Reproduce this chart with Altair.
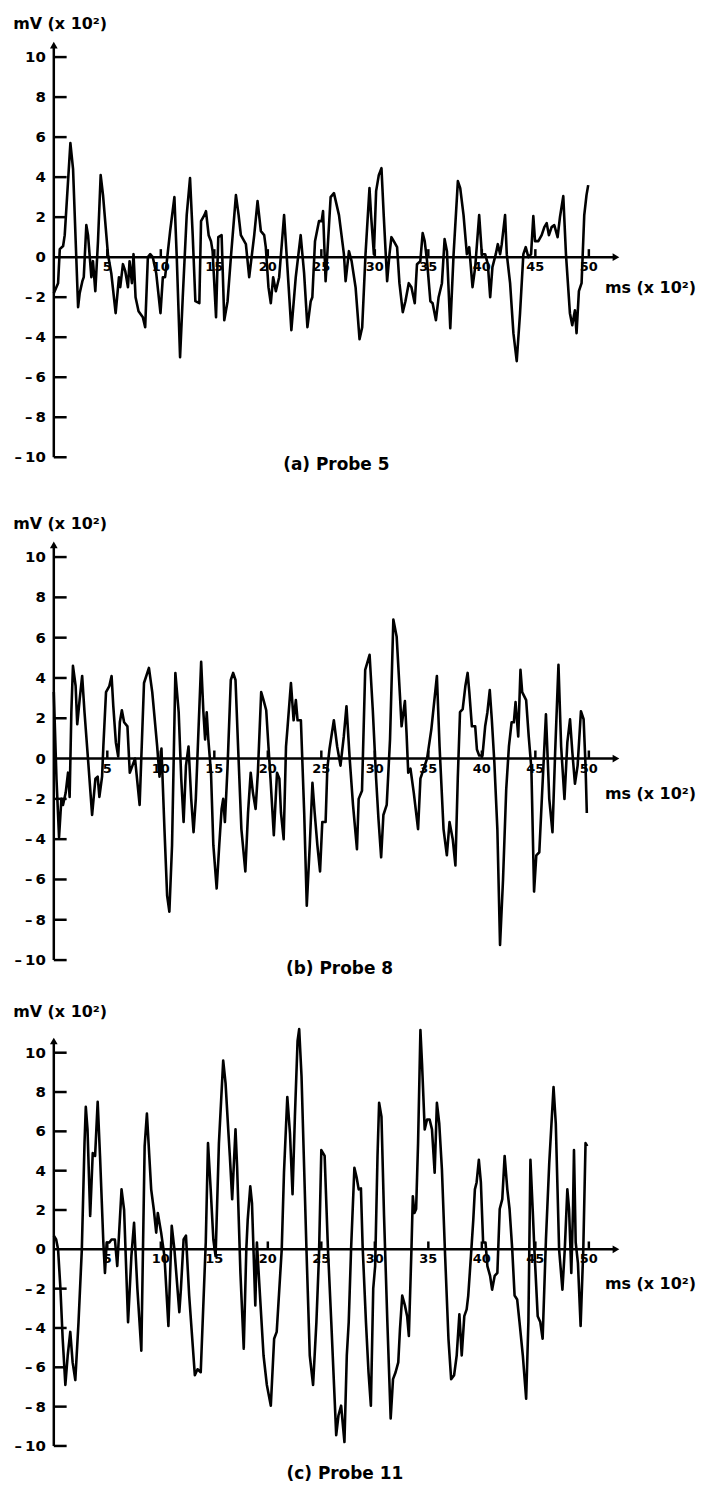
import altair as alt
import pandas as pd

# ---------------- data ----------------
# time axis in ms (x 10^2), signal in mV (x 10^2)
A_T = [0, 0.4, 0.56, 0.87, 1.02, 1.55, 1.8, 2.27, 2.42, 2.67,
       2.8, 3.04, 3.2, 3.51, 3.66, 3.88, 4.13, 4.38, 4.6, 4.91,
       5.06, 5.37, 5.78, 6.09, 6.21, 6.46, 6.68, 6.93, 7.08, 7.3,
       7.45, 7.64, 7.92, 8.32, 8.54, 8.79, 9.01, 9.25, 9.57, 9.97,
       10.19, 10.4, 10.87, 11.27, 11.49, 11.8, 12.05, 12.42, 12.73, 12.98,
       13.23, 13.6, 13.76, 14.07, 14.22, 14.47, 14.69, 14.84, 15.16, 15.37,
       15.68, 15.93, 16.24, 16.55, 17.02, 17.27, 17.48, 17.95, 18.26, 18.73,
       19.04, 19.35, 19.66, 19.81, 20.06, 20.28, 20.5, 20.75, 21.06, 21.52,
       21.83, 22.2, 22.61, 23.07, 23.39, 23.7, 24.01, 24.16, 24.41, 24.78,
       25.03, 25.16, 25.4, 25.56, 25.87, 26.18, 26.65, 27.11, 27.27, 27.58,
       27.83, 28.2, 28.57, 28.82, 29.13, 29.5, 29.66, 29.91, 30.12, 30.37,
       30.62, 30.84, 31.15, 31.37, 31.55, 31.77, 32.08, 32.3, 32.61, 32.86,
       33.17, 33.42, 33.73, 33.94, 34.25, 34.47, 34.66, 34.88, 35.19, 35.4,
       35.71, 35.96, 36.27, 36.52, 36.74, 37.05, 37.36, 37.76, 37.98, 38.29,
       38.6, 38.82, 39.13, 39.38, 39.75, 40.0, 40.31, 40.56, 40.78, 40.99,
       41.3, 41.49, 41.71, 41.86, 42.17, 42.33, 42.64, 42.95, 43.26, 43.57,
       43.88, 44.1, 44.35, 44.6, 44.81, 44.97, 45.28, 45.59, 45.84, 46.06,
       46.27, 46.52, 46.77, 47.08, 47.3, 47.61, 47.86, 48.23, 48.45, 48.7,
       48.85, 49.07, 49.32, 49.57, 49.78, 49.94]
A_V = [-1.8, -1.3, 0.4, 0.56, 1.1, 5.7, 4.4, -2.5, -1.8, -1.2,
       -1.0, 1.6, 1.1, -1.0, -0.2, -1.7, 0.8, 4.1, 3.1, 1.1,
       0.15, -0.8, -2.8, -1.0, -1.5, -0.35, -0.7, -1.5, -0.2, -1.3,
       0.15, -2.0, -2.7, -3.0, -3.5, 0.0, 0.15, 0.0, -0.8, -2.8,
       -1.0, -1.0, 1.3, 3.0, 0.0, -5.0, -2.0, 2.1, 3.95, 1.1,
       -2.2, -2.3, 1.8, 2.1, 2.3, 1.1, 0.8, 0.3, -3.0, 1.0,
       1.1, -3.15, -2.2, 0.0, 3.1, 2.1, 1.1, 0.65, -1.0, 1.1,
       2.8, 1.3, 1.1, 0.5, -1.5, -2.3, -1.0, -1.7, -1.0, 2.1,
       -0.5, -3.65, -1.0, 1.1, -0.8, -3.5, -2.2, -2.0, 0.8, 1.8,
       1.8, 2.3, -1.2, 0.15, 3.0, 3.2, 2.1, 0.15, -1.2, 0.3,
       -0.2, -1.5, -4.1, -3.5, 0.15, 3.45, 2.0, 0.15, 3.3, 4.1,
       4.45, 2.0, -1.2, 0.15, 1.0, 0.8, 0.5, -1.3, -2.75, -2.2,
       -1.3, -1.5, -2.3, -0.35, -0.2, 1.2, 0.8, -0.2, -2.2, -2.3,
       -3.15, -2.0, -1.3, 0.9, 0.3, -3.55, 0.15, 3.8, 3.45, 2.1,
       0.15, 0.5, -1.5, -0.5, 2.1, 0.15, 0.15, -0.35, -2.0, -0.5,
       0.15, 0.65, 0.15, 0.65, 2.1, 0.15, -1.3, -3.8, -5.2, -2.8,
       0.15, 0.5, 0.0, 0.15, 2.05, 0.8, 0.8, 1.1, 1.5, 1.7,
       1.1, 1.5, 1.6, 1.0, 2.0, 3.05, 0.15, -2.8, -3.4, -2.65,
       -3.8, -1.7, -1.3, 2.1, 3.1, 3.6]

B_T = [0, 0.25, 0.49, 0.71, 0.86, 1.11, 1.33, 1.48, 1.64, 1.79,
       2.04, 2.19, 2.41, 2.65, 2.87, 3.18, 3.58, 3.89, 4.10, 4.26,
       4.51, 4.63, 4.88, 5.19, 5.40, 5.56, 5.80, 6.02, 6.17, 6.36,
       6.57, 6.88, 7.10, 7.35, 7.59, 8.02, 8.43, 8.89, 9.20, 9.66,
       9.88, 10.06, 10.34, 10.59, 10.80, 11.05, 11.36, 11.67, 11.91, 12.13,
       12.35, 12.59, 12.84, 13.06, 13.27, 13.77, 13.98, 14.14, 14.29, 14.44,
       14.69, 14.91, 15.22, 15.46, 15.68, 15.83, 15.99, 16.23, 16.54, 16.76,
       16.98, 17.22, 17.53, 17.90, 18.15, 18.40, 18.61, 18.86, 19.07, 19.38,
       19.60, 19.85, 20.06, 20.25, 20.56, 20.86, 21.08, 21.23, 21.48, 21.70,
       21.85, 22.16, 22.41, 22.62, 22.78, 23.09, 23.40, 23.64, 23.92, 24.17,
       24.38, 24.63, 24.88, 25.09, 25.40, 25.56, 25.77, 26.17, 26.48, 26.79,
       27.10, 27.35, 27.65, 27.96, 28.33, 28.49, 28.80, 29.10, 29.51, 29.81,
       30.12, 30.34, 30.59, 30.80, 31.11, 31.42, 31.73, 32.04, 32.35, 32.50,
       32.81, 32.96, 33.12, 33.33, 33.64, 34.04, 34.26, 34.57, 34.88, 35.28,
       35.80, 36.05, 36.42, 36.73, 36.98, 37.28, 37.53, 37.75, 37.96, 38.21,
       38.46, 38.67, 38.83, 39.07, 39.38, 39.54, 39.75, 40.06, 40.31, 40.52,
       40.74, 40.93, 41.17, 41.45, 41.70, 41.98, 42.28, 42.53, 42.78, 42.99,
       43.15, 43.40, 43.61, 43.77, 44.14, 44.38, 44.63, 44.88, 45.09, 45.37,
       45.62, 45.99, 46.30, 46.60, 46.85, 47.16, 47.41, 47.72, 47.99, 48.24,
       48.46, 48.70, 48.95, 49.26, 49.51, 49.69, 49.81]
B_V = [3.3, -1.0, -3.9, -2.0, -2.3, -1.7, -0.7, -1.9, 2.3, 4.6,
       3.6, 1.7, 2.9, 4.1, 2.3, 0.1, -2.8, -1.0, -0.9, -1.9,
       -0.9, 0.6, 3.3, 3.6, 4.1, 2.6, 0.8, 0.1, 1.8, 2.4,
       1.8, 1.6, -0.7, -0.35, 0.0, -2.3, 3.75, 4.5, 3.3, 0.6,
       -0.9, 0.5, -3.5, -6.8, -7.6, -4.3, 4.25, 2.3, -1.0, -3.15,
       -0.35, 0.6, -2.0, -3.65, -2.0, 4.8, 2.3, 0.95, 2.3, 0.95,
       -0.7, -4.3, -6.45, -4.3, -2.5, -2.0, -3.15, -0.5, 3.9, 4.25,
       3.9, 0.6, -3.5, -5.6, -2.7, -0.7, -1.7, -2.5, -0.7, 3.3,
       2.9, 2.4, 0.6, -1.0, -3.8, -0.7, -1.0, -2.7, -4.0, 0.6,
       1.6, 3.75, 1.9, 2.9, 1.9, 1.9, -2.7, -7.3, -4.3, -1.2,
       -2.7, -4.3, -5.6, -3.15, -3.15, -0.5, 0.5, 1.9, 0.6, -0.35,
       1.1, 2.6, 0.0, -2.3, -4.5, -2.0, -1.6, 4.4, 5.15, 2.4,
       -1.0, -3.0, -4.9, -2.8, -2.3, 0.95, 6.9, 6.05, 3.1, 1.6,
       2.85, 1.3, -0.7, -0.5, -1.7, -3.5, -1.0, -0.5, 0.0, 1.45,
       4.1, 0.6, -3.5, -4.8, -3.15, -4.0, -5.3, -1.0, 2.3, 2.45,
       3.6, 4.25, 3.3, 1.6, 1.6, 0.45, 0.15, 0.15, 1.6, 2.3,
       3.4, 1.95, -0.2, -3.5, -9.25, -6.0, -1.5, 0.6, 1.8, 1.8,
       2.8, 1.1, 4.4, 3.3, 2.9, 1.1, -0.5, -6.6, -4.8, -4.65,
       -1.85, 2.2, -2.0, -3.65, 0.3, 4.65, 0.6, -2.0, 0.8, 1.95,
       0.3, -1.25, -0.35, 2.35, 1.95, -0.35, -2.7]

C_T = [0, 0.22, 0.40, 0.62, 0.83, 1.08, 1.30, 1.54, 1.76, 2.01,
       2.31, 2.62, 2.87, 2.99, 3.15, 3.40, 3.64, 3.86, 4.10, 4.32,
       4.63, 4.78, 4.94, 5.19, 5.40, 5.71, 5.93, 6.33, 6.57, 6.94,
       7.25, 7.50, 7.81, 8.18, 8.49, 8.70, 9.10, 9.35, 9.57, 9.72,
       10.03, 10.34, 10.71, 11.02, 11.27, 11.73, 11.88, 12.13, 12.35, 12.65,
       13.18, 13.43, 13.73, 14.20, 14.41, 14.66, 14.91, 15.12, 15.43, 15.83,
       16.05, 16.30, 16.45, 16.67, 16.98, 17.13, 17.44, 17.75, 17.99, 18.12,
       18.36, 18.52, 18.83, 18.98, 19.23, 19.60, 19.91, 20.28, 20.59, 20.83,
       21.30, 21.51, 21.82, 22.07, 22.31, 22.53, 22.78, 22.93, 23.15, 23.61,
       23.92, 24.23, 24.54, 24.78, 25.00, 25.31, 25.62, 25.93, 26.39, 26.60,
       26.85, 27.16, 27.38, 27.56, 27.78, 28.09, 28.30, 28.49, 28.70, 28.86,
       29.17, 29.41, 29.63, 29.85, 30.03, 30.25, 30.40, 30.62, 30.86, 31.17,
       31.48, 31.70, 31.94, 32.19, 32.35, 32.56, 32.81, 33.02, 33.18, 33.43,
       33.55, 33.70, 33.86, 34.04, 34.26, 34.41, 34.66, 34.88, 35.12, 35.34,
       35.59, 35.80, 36.02, 36.27, 36.57, 36.88, 37.13, 37.41, 37.65, 37.90,
       38.12, 38.36, 38.58, 38.73, 38.98, 39.20, 39.35, 39.51, 39.72, 39.91,
       40.12, 40.34, 40.52, 40.77, 40.96, 41.20, 41.45, 41.67, 41.91, 42.13,
       42.38, 42.59, 42.84, 43.06, 43.30, 43.52, 43.83, 44.14, 44.35, 44.54,
       44.75, 44.91, 45.22, 45.46, 45.68, 45.99, 46.30, 46.70, 46.91, 47.22,
       47.53, 47.75, 47.99, 48.15, 48.36, 48.52, 48.61, 48.77, 48.98, 49.23,
       49.48, 49.69, 49.85]
C_V = [0.7, 0.5, 0.0, -2.0, -4.55, -6.9, -5.4, -4.2, -5.75, -6.65,
       -3.7, 0.0, 5.4, 7.25, 6.1, 1.7, 4.9, 4.75, 7.5, 4.75,
       0.35, -1.2, 0.35, 0.35, 0.5, 0.5, -0.85, 3.05, 2.0, -3.7,
       -0.35, 1.35, -2.0, -5.15, 5.25, 6.9, 3.05, 2.0, 0.85, 1.85,
       0.85, -0.35, -3.9, 1.2, 0.0, -3.2, -2.0, 0.5, 0.7, -2.35,
       -6.4, -6.1, -6.25, 0.35, 5.4, 3.05, 0.5, -0.35, 5.4, 9.6,
       8.45, 6.1, 4.75, 2.55, 6.1, 4.2, -1.2, -5.05, 0.0, 1.5,
       3.2, 2.35, -2.85, 0.35, -2.0, -5.4, -6.9, -7.95, -4.55, -4.2,
       0.0, 3.9, 7.75, 5.9, 2.8, 6.75, 10.6, 11.2, 8.8, 0.0,
       -5.4, -6.9, -3.7, -0.35, 5.05, 4.75, 0.0, -3.7, -9.45, -8.45,
       -7.95, -9.8, -5.4, -3.7, 0.0, 4.15, 3.65, 3.05, 3.1, 0.15,
       -3.7, -6.25, -7.95, -2.0, -0.85, 4.75, 7.45, 6.75, 1.7, -3.7,
       -8.6, -6.6, -6.25, -5.75, -4.05, -2.35, -2.85, -3.4, -4.4, 0.15,
       2.7, 1.85, 2.05, 5.4, 11.15, 9.45, 6.1, 6.6, 6.6, 6.1,
       3.9, 7.45, 6.4, 4.05, -0.35, -4.55, -6.6, -6.4, -5.4, -3.3,
       -5.4, -3.4, -3.05, -2.35, -0.35, 1.5, 3.05, 3.4, 4.55, 3.4,
       0.35, 0.35, -0.85, -1.35, -2.05, -1.35, -1.2, 2.05, 2.55, 4.75,
       3.05, 2.05, 0.0, -2.35, -2.55, -3.7, -5.4, -7.6, -3.7, 4.55,
       2.05, 0.0, -3.4, -3.7, -4.55, 0.5, 4.4, 8.25, 6.4, 0.0,
       -2.05, 0.0, 3.05, 2.05, -1.2, 2.05, 5.05, 0.35, -0.7, -3.9,
       0.0, 5.4, 5.25]

CAPTIONS = ["(a)  Probe  5", "(b)  Probe  8", "(c)  Probe  11"]
Y_LABEL = "mV (x 10²)"
X_LABEL = "ms (x 10²)"
X_TICKS = [5, 10, 15, 20, 25, 30, 35, 40, 45, 50]
Y_TICKS = [-10, -8, -6, -4, -2, 0, 2, 4, 6, 8, 10]

# ---------------- layout ----------------
FONT = "DejaVu Sans"
X_DOMAIN = [0, 53.5]
W = 575
X_END = 53.0      # tip of the time-axis arrow
Y_END = 10.85     # tip of the voltage-axis arrow

PANEL_SPECS = [
    dict(t=A_T, v=A_V, cap=CAPTIONS[0], ytop=10.8, h=418,
         mv_y=11.64, ms_y=-1.54, cap_x=26.4, cap_y=-10.4),
    dict(t=B_T, v=B_V, cap=CAPTIONS[1], ytop=11.0, h=425,
         mv_y=11.66, ms_y=-1.78, cap_x=26.7, cap_y=-10.45),
    dict(t=C_T, v=C_V, cap=CAPTIONS[2], ytop=10.66, h=408,
         mv_y=12.05, ms_y=-1.77, cap_x=27.2, cap_y=-11.42),
]


def ylab(t):
    if t == 0:
        return "0"
    return ("\u2013\u2009" if t < 0 else "") + str(abs(t))


def make_panel(p):
    xs = alt.Scale(domain=X_DOMAIN, nice=False, zero=False)
    ys = alt.Scale(domain=[-10, p["ytop"]], nice=False, zero=False)

    def X(f):
        return alt.X(f, type="quantitative", scale=xs, axis=None)

    def Y(f):
        return alt.Y(f, type="quantitative", scale=ys, axis=None)

    sig = pd.DataFrame({"t": p["t"], "v": p["v"]})
    sig["i"] = range(len(sig))
    line = alt.Chart(sig).mark_line(
        color="black", strokeWidth=2.6, strokeJoin="round", clip=False
    ).encode(x=X("t"), y=Y("v"), order="i:Q")

    rows = [dict(x=0, x2=0, y=-10, y2=Y_END - 0.3), dict(x=0, x2=X_END - 0.5, y=0, y2=0)]
    rows += [dict(x=0, x2=1.2, y=t, y2=t) for t in Y_TICKS if t != 0]
    rows += [dict(x=t, x2=t, y=0, y2=0.4) for t in X_TICKS]
    rules = alt.Chart(pd.DataFrame(rows)).mark_rule(
        color="black", strokeWidth=2.5
    ).encode(x=X("x"), x2="x2:Q", y=Y("y"), y2="y2:Q")

    up = alt.Chart(pd.DataFrame({"x": [0], "y": [Y_END]})).mark_point(
        shape="triangle-up", size=60, filled=True,
        color="black", opacity=1, yOffset=5
    ).encode(x=X("x"), y=Y("y"))
    right = alt.Chart(pd.DataFrame({"x": [X_END], "y": [0]})).mark_point(
        shape="triangle-right", size=60, filled=True,
        color="black", opacity=1, xOffset=-5
    ).encode(x=X("x"), y=Y("y"))

    ylabs = pd.DataFrame({"x": [0] * len(Y_TICKS), "y": Y_TICKS,
                          "s": [ylab(t) for t in Y_TICKS]})
    ytxt = alt.Chart(ylabs).mark_text(
        align="right", baseline="middle", dx=-8, font=FONT, fontSize=15,
        fontWeight="bold", color="black"
    ).encode(x=X("x"), y=Y("y"), text="s:N")

    xlabs = pd.DataFrame({"x": X_TICKS, "y": [0] * len(X_TICKS),
                          "s": [str(t) for t in X_TICKS]})
    xtxt = alt.Chart(xlabs).mark_text(
        align="center", baseline="top", dy=4, font=FONT, fontSize=13,
        fontWeight="bold", color="black"
    ).encode(x=X("x"), y=Y("y"), text="s:N")

    mv = alt.Chart(pd.DataFrame({"x": [-3.8], "y": [p["mv_y"]], "s": [Y_LABEL]})).mark_text(
        align="left", baseline="middle", font=FONT, fontSize=16,
        fontWeight="bold", color="black"
    ).encode(x=X("x"), y=Y("y"), text="s:N")

    ms = alt.Chart(pd.DataFrame({"x": [51.5], "y": [p["ms_y"]], "s": [X_LABEL]})).mark_text(
        align="left", baseline="middle", font=FONT, fontSize=16,
        fontWeight="bold", color="black"
    ).encode(x=X("x"), y=Y("y"), text="s:N")

    cap = alt.Chart(pd.DataFrame({"x": [p["cap_x"]], "y": [p["cap_y"]], "s": [p["cap"]]})).mark_text(
        align="center", baseline="middle", font=FONT, fontSize=17,
        fontWeight="bold", color="black"
    ).encode(x=X("x"), y=Y("y"), text="s:N")

    return alt.layer(rules, up, right, line, ytxt, xtxt, mv, ms, cap).properties(
        width=W, height=p["h"]
    )


panels = [make_panel(p) for p in PANEL_SPECS]

chart = alt.vconcat(*panels, spacing=80, bounds="flush").properties(
    padding={"left": 5, "top": 5, "right": 0, "bottom": 0},
    background="white",
).configure_view(stroke=None)

chart.save("out.html", embed_options={"renderer": "svg", "actions": False})
